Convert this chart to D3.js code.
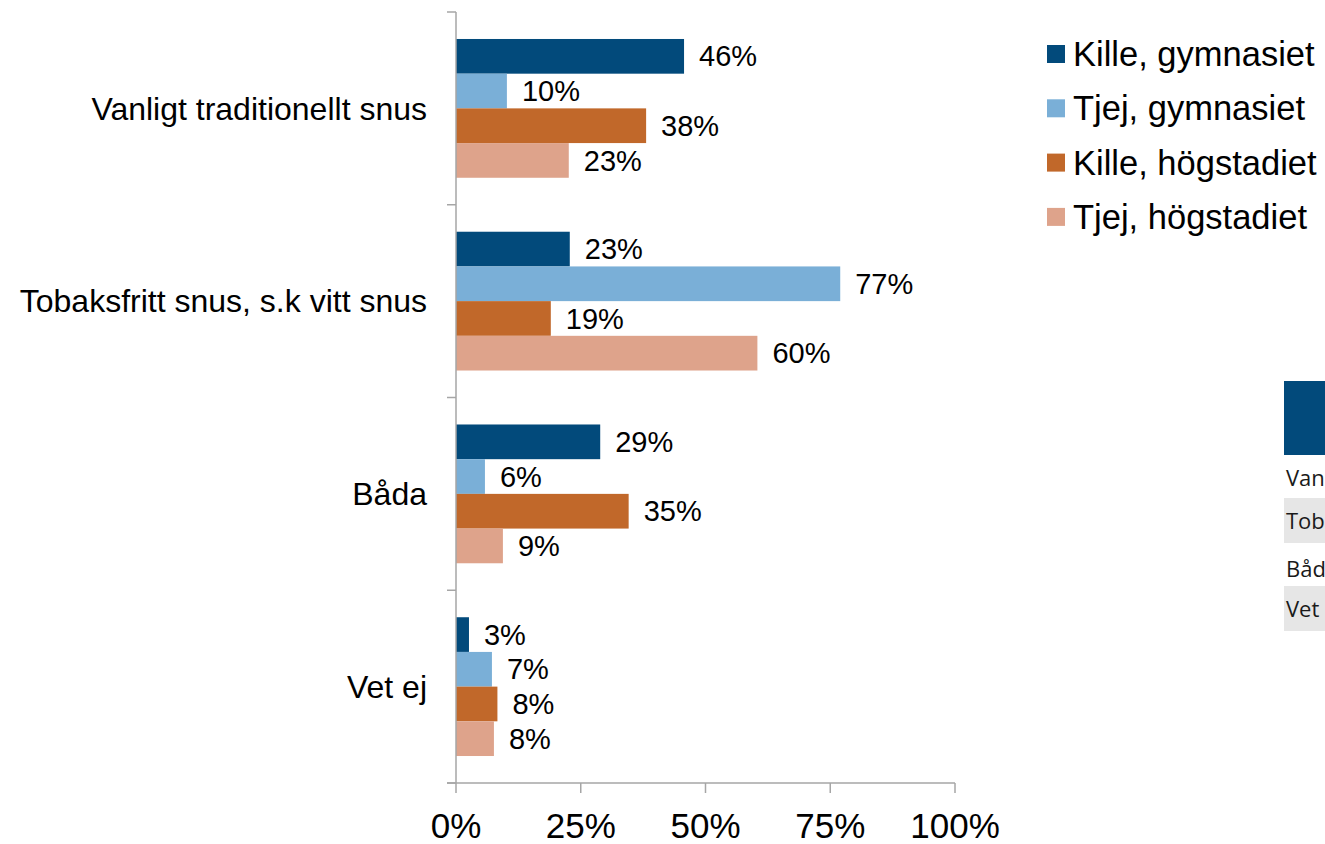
<!DOCTYPE html>
<html>
<head>
<meta charset="utf-8">
<script src="https://cdn.jsdelivr.net/npm/d3@7"></script>
<style>
html,body{margin:0;padding:0;background:#fff;overflow:hidden;}
svg{display:block;font-family:"Liberation Sans",Arial,sans-serif;}
</style>
</head>
<body>
<svg id="chart" width="1325" height="844"></svg>
<script>
const categories = ["Vanligt traditionellt snus", "Tobaksfritt snus, s.k vitt snus", "Båda", "Vet ej"];
const series = ["Kille, gymnasiet", "Tjej, gymnasiet", "Kille, högstadiet", "Tjej, högstadiet"];
const killeGymnasiet = [45.7, 22.8, 28.9, 2.6];
const tjejGymnasiet = [10.2, 77.0, 5.8, 7.2];
const killeHogstadiet = [38.1, 19.0, 34.6, 8.3];
const tjejHogstadiet = [22.6, 60.4, 9.4, 7.6];
const xTicks = [0, 25, 50, 75, 100];
const colors = ["#024a7b", "#7aafd7", "#c1682a", "#dea38b"];

const seriesValues = [killeGymnasiet, tjejGymnasiet, killeHogstadiet, tjejHogstadiet];
const svg = d3.select("#chart");

const x = d3.scaleLinear().domain([0, 100]).range([456, 955]);
const y0 = d3.scaleBand().domain(categories).range([12, 783]).paddingInner(0.28).paddingOuter(0.14);
const y1 = d3.scaleBand().domain(series).range([0, y0.bandwidth()]);
const color = d3.scaleOrdinal().domain(series).range(colors);
const fmt = v => d3.format(".0f")(v) + "%";

// bars
const groups = svg.append("g").selectAll("g").data(categories).join("g")
  .attr("transform", c => `translate(0,${y0(c)})`);
groups.selectAll("rect").data((c, i) => series.map((s, j) => ({s, v: seriesValues[j][i]})))
  .join("rect")
  .attr("x", x(0))
  .attr("y", d => y1(d.s))
  .attr("width", d => x(d.v) - x(0))
  .attr("height", y1.bandwidth())
  .attr("fill", d => color(d.s));
groups.selectAll("text").data((c, i) => series.map((s, j) => ({s, v: seriesValues[j][i]})))
  .join("text")
  .attr("x", d => x(d.v) + 15)
  .attr("y", d => y1(d.s) + y1.bandwidth() / 2)
  .attr("dy", "0.35em")
  .attr("font-size", 29)
  .attr("fill", "#000")
  .text(d => fmt(d.v));

// vertical axis (category)
const axisColor = "#a6a6a6";
const yBounds = d3.range(categories.length + 1).map(i => 12 + i * (771 / categories.length));
svg.append("line").attr("x1", x(0)).attr("x2", x(0)).attr("y1", 12).attr("y2", 783)
  .attr("stroke", axisColor).attr("stroke-width", 1.5);
svg.append("g").selectAll("line").data(yBounds).join("line")
  .attr("x1", x(0) - 9).attr("x2", x(0)).attr("y1", d => d).attr("y2", d => d)
  .attr("stroke", axisColor).attr("stroke-width", 1.5);
svg.append("g").selectAll("text").data(categories).join("text")
  .attr("x", 427)
  .attr("y", c => y0(c) + y0.bandwidth() / 2)
  .attr("dy", "0.35em")
  .attr("text-anchor", "end")
  .attr("font-size", 32)
  .attr("fill", "#000")
  .text(c => c);

// horizontal axis
svg.append("line").attr("x1", x(0) - 9).attr("x2", x(100)).attr("y1", 783).attr("y2", 783)
  .attr("stroke", axisColor).attr("stroke-width", 1.5);
svg.append("g").selectAll("line").data(xTicks).join("line")
  .attr("x1", d => x(d)).attr("x2", d => x(d)).attr("y1", 783).attr("y2", 793)
  .attr("stroke", axisColor).attr("stroke-width", 1.5);
svg.append("g").selectAll("text").data(xTicks).join("text")
  .attr("x", d => x(d))
  .attr("y", 826)
  .attr("dy", "0.35em")
  .attr("text-anchor", "middle")
  .attr("font-size", 35)
  .attr("fill", "#000")
  .text(d => d + "%");

// legend
const lg = svg.append("g").selectAll("g").data(series).join("g")
  .attr("transform", (s, i) => `translate(1047,${54 + i * 54.3})`);
lg.append("rect").attr("x", 0).attr("y", -9).attr("width", 18).attr("height", 18)
  .attr("fill", s => color(s));
lg.append("text").attr("x", 26).attr("y", 0).attr("dy", "0.35em")
  .attr("font-size", 34.5).attr("fill", "#000").text(s => s);

// partially visible data table at right edge
const tbl = svg.append("g").attr("font-family", "'Open Sans','Noto Sans',sans-serif");
tbl.append("rect").attr("x", 1284).attr("y", 381).attr("width", 60).attr("height", 74).attr("fill", "#024a7b");
const rowY = [478, 521, 569, 609];
tbl.selectAll("rect.row").data(categories).join("rect").attr("class", "row")
  .attr("x", 1284).attr("y", (c, i) => rowY[i] - 23).attr("width", 60).attr("height", 45)
  .attr("fill", (c, i) => i % 2 === 1 ? "#e6e6e6" : "none");
tbl.selectAll("text").data(categories).join("text")
  .attr("x", 1286).attr("y", (c, i) => rowY[i]).attr("dy", "0.35em")
  .attr("font-size", 22).attr("fill", "#1a1a1a").text(c => c);
</script>
</body>
</html>
